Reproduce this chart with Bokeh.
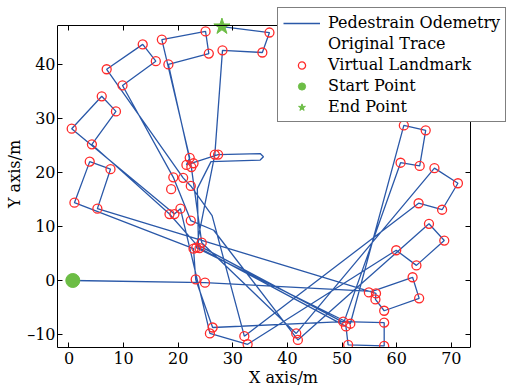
from bokeh.plotting import figure
from bokeh.models import Range1d, LinearAxis, Legend, LegendItem, FixedTicker
from bokeh.embed import file_html
from bokeh.resources import INLINE

# Pedestrian odometry trace
trace_x = [0.7, 24.9, 55.5, 62.9, 64.1, 57.7, 56.1, 56.2, 5.2, 7.6, 3.8, 1.0, 22.8, 23.2, 26.3,
           50.2, 57.7, 57.7, 51.1, 50.7, 23.9, 18.4, 4.2, 8.6, 6.0, 0.5, 19.3, 20.4, 25.8, 32.7,
           59.9, 63.6, 68.7, 65.9, 41.9, 26.5, 22.3, 19.1, 9.8, 15.9, 13.5, 6.9, 20.9, 22.3, 26.2,
           32.1, 64.0, 68.3, 71.2, 66.9, 41.6, 24.3, 22.4, 18.2, 25.6, 25.0, 17.0, 22.1, 21.5,
           27.3, 35.0, 35.6, 35.0, 26.0, 23.5, 23.7, 50.3, 60.7, 64.2, 65.3, 61.3, 51.5, 23.3,
           26.7, 28.1, 35.4, 36.7, 28.0]
trace_y = [0.0, -0.4, -2.0, 0.6, -3.3, -5.6, -3.5, -2.4, 13.3, 20.6, 22.0, 14.4, 5.9, 0.2, -8.7,
           -7.6, -7.8, -12.1, -11.9, -8.5, 6.0, 12.3, 25.2, 31.3, 34.1, 28.1, 12.3, 13.3, -9.8, -11.8,
           5.6, 2.8, 7.4, 10.5, -11.0, 9.3, 11.1, 19.1, 36.1, 40.6, 43.7, 39.1, 19.0, 17.5, 12.0,
           -10.3, 14.3, 13.1, 18.0, 20.8, -9.8, 7.0, 21.0, 40.0, 42.0, 46.1, 44.6, 22.7, 21.4,
           23.3, 23.5, 22.9, 22.3, 22.0, 17.0, 6.5, -7.8, 21.8, 21.2, 27.8, 28.7, -8.0, 6.1,
           23.3, 42.6, 42.2, 45.9, 47.0]

# Virtual landmarks
landmark_x = [0.5, 6.0, 8.6, 4.2, 3.8, 7.6, 1.0, 5.2, 6.9, 9.8, 13.5, 15.9, 17.0, 18.2, 25.0, 25.6,
              28.1, 36.7, 35.4, 22.1, 21.5, 22.8, 22.4, 26.7, 27.3, 19.1, 20.9, 18.7, 22.3,
              18.4, 19.3, 20.4, 22.3, 24.3, 22.8, 23.3, 23.9, 23.2, 24.9, 26.3, 25.8, 32.1, 32.7,
              41.6, 41.9, 50.2, 50.7, 51.5, 57.7, 51.1, 57.7, 54.9, 56.2, 56.1, 57.7, 62.9, 64.1,
              59.9, 63.6, 65.9, 68.7, 64.0, 68.3, 66.9, 71.2, 60.7, 64.2, 61.3, 65.3]
landmark_y = [28.1, 34.1, 31.3, 25.2, 22.0, 20.6, 14.4, 13.3, 39.1, 36.1, 43.7, 40.6, 44.6, 40.0, 46.1, 42.0,
              42.6, 45.9, 42.2, 22.7, 21.4, 21.7, 21.0, 23.3, 23.3, 19.1, 19.0, 16.9, 17.5,
              12.3, 12.3, 13.3, 11.1, 7.0, 5.9, 6.1, 6.0, 0.2, -0.4, -8.7, -9.8, -10.3, -11.8,
              -9.8, -11.0, -7.6, -8.5, -8.0, -7.8, -11.9, -12.1, -2.2, -2.4, -3.5, -5.6, 0.6, -3.3,
              5.6, 2.8, 10.5, 7.4, 14.3, 13.1, 20.8, 18.0, 21.8, 21.2, 28.7, 27.8]

start_x, start_y = [0.7], [0.0]
end_x, end_y = [28.0], [47.0]

x_ticks = [0, 10, 20, 30, 40, 50, 60, 70]
y_ticks = [-10, 0, 10, 20, 30, 40]

# axes box limits
X_MIN, X_MAX = -2.1, 73.5
Y_MIN, Y_MAX = -12.4, 47.2

FONT = "DejaVu Serif"
BLUE = "#2a58a8"
RED = "#ff2b2b"
GREEN = "#6cbd45"

# layout: the visible box spans px 57..470 (x) and 25..347 (y); the frame is extended
# to the canvas top/right so that the legend is not clipped
W, H = 509, 391
BOX_L, BOX_R, BOX_T, BOX_B = 57, 470, 25, 347
x_scale = (BOX_R - BOX_L) / (X_MAX - X_MIN)
y_scale = (BOX_B - BOX_T) / (Y_MAX - Y_MIN)
x_end = X_MAX + (W - BOX_R) / x_scale
y_end = Y_MAX + BOX_T / y_scale

p = figure(width=W, height=H, output_backend="svg", toolbar_location=None,
           x_range=Range1d(X_MIN, x_end), y_range=Range1d(Y_MIN, y_end),
           min_border_left=BOX_L, min_border_right=0, min_border_top=0,
           min_border_bottom=H - BOX_B,
           x_axis_label="X axis/m", y_axis_label="Y axis/m")
p.grid.visible = False
p.outline_line_color = None
p.background_fill_color = "white"
p.border_fill_color = "white"

def style_axis(ax, ticks, bounds, labels=True):
    ax.ticker = FixedTicker(ticks=ticks)
    ax.bounds = bounds
    ax.major_tick_in = 5
    ax.major_tick_out = 0
    ax.minor_tick_line_color = None
    ax.axis_line_color = "black"
    ax.axis_line_width = 1
    ax.major_tick_line_color = "black"
    ax.major_label_text_font = FONT
    ax.major_label_text_font_size = "16px"
    ax.major_label_text_color = "black"
    ax.axis_label_text_font = FONT
    ax.axis_label_text_font_size = "16px"
    ax.axis_label_text_font_style = "normal"
    ax.axis_label_text_color = "black"
    if not labels:
        ax.major_label_overrides = {t: "" for t in ticks}
        ax.major_label_text_font_size = "1px"
        ax.major_label_standoff = 0

style_axis(p.xaxis[0], x_ticks, (X_MIN, X_MAX))
style_axis(p.yaxis[0], y_ticks, (Y_MIN, Y_MAX))
p.xaxis[0].major_label_standoff = 4
p.xaxis[0].axis_label_standoff = 1
p.yaxis[0].major_label_standoff = 2
p.yaxis[0].axis_label_standoff = 0
p.yaxis[0].major_label_overrides = {-10: "\u201310"}

top_ax = LinearAxis(fixed_location=Y_MAX)
style_axis(top_ax, x_ticks, (X_MIN, X_MAX), labels=False)
right_ax = LinearAxis(fixed_location=X_MAX)
style_axis(right_ax, y_ticks, (Y_MIN, Y_MAX), labels=False)
p.add_layout(top_ax, "above")
p.add_layout(right_ax, "right")

r_trace = p.line(trace_x, trace_y, line_color=BLUE, line_width=1.3)
r_dummy = p.line([0, 0], [0, 0], line_alpha=0)
r_lm = p.scatter(landmark_x, landmark_y, marker="circle", size=9, fill_color=None,
                 line_color=RED, line_width=1.3)
r_start = p.scatter(start_x, start_y, marker="circle", size=14, fill_color=GREEN, line_color=GREEN)
r_end = p.scatter(end_x, end_y, marker="star", size=17, fill_color=GREEN, line_color=GREEN)

legend = Legend(items=[
    LegendItem(label="Pedestrain Odemetry", renderers=[r_trace]),
    LegendItem(label="Original Trace", renderers=[r_dummy]),
    LegendItem(label="Virtual Landmark", renderers=[r_lm]),
    LegendItem(label="Start Point", renderers=[r_start]),
    LegendItem(label="End Point", renderers=[r_end]),
], location=(277 - BOX_L, BOX_B - 122))
legend.label_text_font = FONT
legend.label_text_font_size = "16px"
legend.label_text_color = "black"
legend.glyph_width = 37
legend.glyph_height = 18
legend.label_height = 18
legend.label_standoff = 8
legend.spacing = 2
legend.padding = 5
legend.margin = 0
legend.border_line_color = "black"
legend.border_line_width = 1
legend.background_fill_alpha = 1
p.add_layout(legend)

open("out.html", "w").write(file_html(p, INLINE))
